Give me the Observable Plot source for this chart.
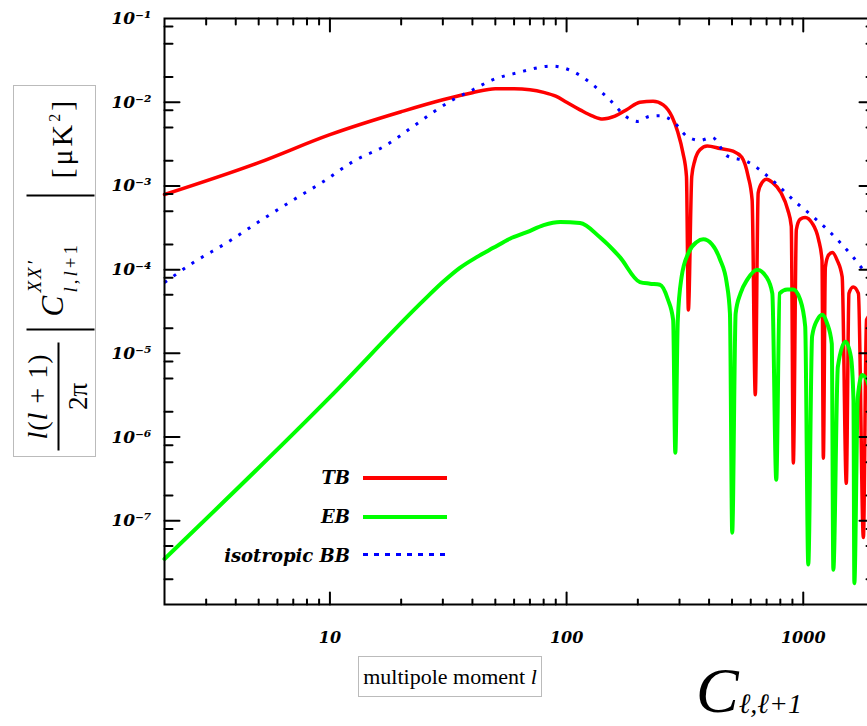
<!DOCTYPE html>
<html><head><meta charset="utf-8">
<script src="https://cdn.jsdelivr.net/npm/d3@7"></script>
<script src="https://cdn.jsdelivr.net/npm/@observablehq/plot@0.6"></script>
<style>
html,body{margin:0;padding:0;background:#fff;overflow:hidden}
#wrap{position:relative;width:867px;height:726px;overflow:hidden;background:#fff}
#chart,#axes{position:absolute;left:0;top:0;width:880px;height:726px}
#axes{pointer-events:none}
#ylab{position:absolute;left:13px;top:85px;width:83px;height:372px;border:1px solid #bbb;box-sizing:border-box}
#ylab .inner{position:absolute;left:-144.5px;top:144.5px;width:372px;height:83px;transform:rotate(-90deg);font-family:"Liberation Serif",serif;color:#000}
#ylab .inner > *{position:absolute;white-space:nowrap}
.num{left:6px;width:112px;top:4px;line-height:38px;font-size:28px;text-align:center;letter-spacing:1px}
.fbar{left:8px;width:108px;top:43px;height:2px;background:#000}
.den{left:6px;width:112px;top:46px;line-height:34px;font-size:27px;text-align:center}
.vbar{top:12px;width:2px;height:68px;background:#000}
.cc{left:142px;top:18px;font-size:31px;font-style:italic;line-height:40px}
.csup{left:166px;top:8px;font-size:19px;font-style:italic;line-height:24px;letter-spacing:2px}
.csub{left:166px;top:44px;font-size:19px;line-height:24px;letter-spacing:3px}
.unit{left:280px;top:20px;font-size:30px;line-height:40px;letter-spacing:3px}
.unit sup{font-size:16px;vertical-align:12px}
#xlab{position:absolute;left:358px;top:656px;width:184px;height:41px;border:1px solid #bbb;box-sizing:border-box;font-family:"Liberation Serif",serif;font-size:22px;line-height:39px;text-align:center;white-space:nowrap}
#cll{position:absolute;left:696px;top:659px;font-family:"Liberation Serif",serif;font-style:italic;font-size:64px;line-height:64px;white-space:nowrap}
#cll sub{font-size:28px;font-style:italic;vertical-align:-1px}
.lgt{position:absolute;font-family:"DejaVu Serif",serif;font-weight:bold;font-style:italic;font-size:18px;text-align:right;width:200px;left:150px;line-height:22px}
.lgs{position:absolute;left:363px;width:84px}
</style></head><body>
<div id="wrap">
  <div id="chart"></div>
  <div id="ylab"><div class="inner">
    <span class="num"><i>l</i>(<i>l</i> + 1)</span>
    <span class="fbar"></span>
    <span class="den">2π</span>
    <span class="vbar" style="left:128px"></span>
    <span class="cc">C</span>
    <span class="csup">XX′</span>
    <span class="csub"><i>l</i>,<i>l</i>+1</span>
    <span class="vbar" style="left:262px"></span>
    <span class="unit">[μK<sup>2</sup>]</span>
  </div></div>
  <div id="xlab">multipole moment <i>l</i></div>
  <div id="cll">C<sub>ℓ,ℓ+1</sub></div>
  <div class="lgt" style="top:467px">TB</div>
  <div class="lgs" style="top:476px;height:4px;background:#ff0000"></div>
  <div class="lgt" style="top:506px">EB</div>
  <div class="lgs" style="top:515px;height:4px;background:#00ff00"></div>
  <div class="lgt" style="top:545px">isotropic BB</div>
  <div class="lgs" style="top:553px;height:3px;background:repeating-linear-gradient(to right,#0000ff 0 5px,transparent 5px 11px)"></div>
  <div id="axes"></div>
</div>
<script>
// multipole moments and values
const tbL = [2,5,10,20,30,40,50,60,70,80,90,100,114,129,142,160,180,204,232,256,279,295,310,321,327,338,348,366,393,445,505,550,585,608,627,645,670,700,740,805,860,890,908,935,970,1019,1090,1160,1200,1216,1240,1280,1327,1390,1460,1520,1560,1625,1710,1795,1850,2000];
const tbV = [7.9e-4,1.9e-3,4.1e-3,7.7e-3,1.07e-2,1.3e-2,1.45e-2,1.45e-2,1.41e-2,1.31e-2,1.18e-2,1.0e-2,8.1e-3,6.8e-3,6.3e-3,6.8e-3,8.2e-3,1.0e-2,1.03e-2,9.3e-3,6.7e-3,4.4e-3,2.5e-3,1.3e-3,3.3e-5,1.3e-3,2.0e-3,2.7e-3,3.0e-3,2.8e-3,2.6e-3,2.2e-3,1.3e-3,6.8e-4,3.2e-6,8.3e-4,1.1e-3,1.2e-3,1.1e-3,8.3e-4,5.2e-4,3.3e-4,4.9e-7,3.0e-4,4.0e-4,4.2e-4,3.6e-4,2.3e-4,1.3e-4,5.6e-7,1.07e-4,1.5e-4,1.6e-4,1.3e-4,8.2e-5,2.8e-7,5.2e-5,6.2e-5,5.2e-5,6.3e-8,2.5e-5,3.2e-5];

const ebL = [2,10,24.7,30,35.4,41.7,49,57.6,68,80,94,114,138,168,204,225,248,268,282,288,295,306,327,355,378,412,445,475,490,501,518,543,580,638,700,740,769,795,855,908,970,1019,1050,1090,1145,1203,1260,1320,1340,1400,1507,1590,1630,1644,1700,1774,1900,2000];
const ebV = [3.5e-8,3.0e-6,4.2e-5,7.1e-5,1.05e-4,1.41e-4,1.82e-4,2.34e-4,2.8e-4,3.4e-4,3.7e-4,3.6e-4,2.45e-4,1.41e-4,7.1e-5,6.8e-5,6.6e-5,4.4e-5,2.5e-5,6.5e-7,2.5e-5,8.1e-5,1.58e-4,2.14e-4,2.3e-4,2.0e-4,1.32e-4,6.9e-5,3.0e-5,7.2e-8,3.0e-5,5.2e-5,7.6e-5,1.0e-4,8.1e-5,5.2e-5,3.1e-7,5.2e-5,5.8e-5,5.8e-5,4.4e-5,2.1e-5,3.0e-8,1.6e-5,2.5e-5,2.9e-5,2.3e-5,1.3e-5,2.6e-8,6.9e-6,1.38e-5,9.1e-6,2.75e-6,1.8e-8,3.0e-6,5.5e-6,4.0e-6,2.0e-6];

const bbL = [2,2.63,3.67,5.2,7.0,9.35,12.5,17.4,22.4,27.3,33.1,40.2,48.9,61.6,87,106,129,152,180,200,225,248,282,323,366,412,475,580,740,935,1100,1390,1625,1795,2000];
const bbV = [7.0e-5,1.2e-4,2.1e-4,4.0e-4,6.8e-4,1.12e-3,1.95e-3,3.1e-3,5.1e-3,7.6e-3,1.07e-2,1.41e-2,1.86e-2,2.24e-2,2.7e-2,2.34e-2,1.62e-2,1.07e-2,6.6e-3,5.9e-3,6.8e-3,6.9e-3,5.9e-3,3.9e-3,3.5e-3,3.8e-3,2.3e-3,1.95e-3,1.17e-3,6.3e-4,4.3e-4,2.3e-4,1.41e-4,1.0e-4,7.9e-5];

// axis ticks
const xMajor = [10,100,1000];
const xMinor = [3,4,5,6,7,8,9,20,30,40,50,60,70,80,90,200,300,400,500,600,700,800,900];
const yMajor = [1e-7,1e-6,1e-5,1e-4,1e-3,1e-2];
const yLabels = [1e-7,1e-6,1e-5,1e-4,1e-3,1e-2,1e-1];
const yMinor = [];
for (const e of [-8,-7,-6,-5,-4,-3,-2]) for (const m of [2,5,8]) yMinor.push(m * Math.pow(10, e));

const tb = tbL.map((l,i) => ({l, v: tbV[i]}));
const eb = ebL.map((l,i) => ({l, v: ebV[i]}));
const bb = bbL.map((l,i) => ({l, v: bbV[i]}));

const supMap = {"-":"⁻","0":"⁰","1":"¹","2":"²","3":"³","4":"⁴","5":"⁵","6":"⁶","7":"⁷","8":"⁸","9":"⁹"};
const fmtY = d => "10" + String(Math.round(Math.log10(d))).split("").map(c => supMap[c]).join("");

const W = 880, H = 726, mL = 164, mR = 6, mT = 18, mB = 122;
const base = {
  width: W, height: H,
  marginLeft: mL, marginRight: mR, marginTop: mT, marginBottom: mB,
  style: {background: "transparent", color: "#000", maxWidth: "none"},
  x: {type: "log", domain: [2, 2000], axis: null},
  y: {type: "log", domain: [1e-8, 1e-1], axis: null}
};
const lblFont = {fontFamily: "DejaVu Serif", fontWeight: "bold", fontStyle: "italic"};
const tickShape = {draw(ctx, l) { ctx.moveTo(0, 0); ctx.lineTo(0, -l); }};
const tk = (data, ch, side, len) => Plot.vector(data, {
  [ch]: d => d, frameAnchor: side, length: len, anchor: "start",
  rotate: {bottom: 0, top: 180, left: 90, right: -90}[side],
  shape: tickShape, stroke: "#000", strokeWidth: 2
});

// curves
const curves = Plot.plot({...base, marks: [
  Plot.line(tb, {x: "l", y: "v", stroke: "#ff0000", strokeWidth: 3.5, curve: "monotone-x"}),
  Plot.line(eb, {x: "l", y: "v", stroke: "#00ff00", strokeWidth: 4, curve: "monotone-x"}),
  Plot.line(bb, {x: "l", y: "v", stroke: "#0000ff", strokeWidth: 3, strokeDasharray: "3,8", strokeLinecap: "butt", curve: "monotone-x"})
]});
document.getElementById("chart").appendChild(curves);

// frame, ticks and tick labels
const axes = Plot.plot({...base, marks: [
  tk(xMajor, "x", "bottom", 12), tk(xMinor, "x", "bottom", 5),
  tk(xMajor, "x", "top", 13), tk(xMinor, "x", "top", 6),
  tk(yMajor, "y", "left", 15), tk(yMinor, "y", "left", 8),
  tk(yMajor, "y", "right", 15), tk(yMinor, "y", "right", 8),
  Plot.frame({stroke: "#000", strokeWidth: 2}),
  Plot.axisX(xMajor, {anchor: "bottom", tickSize: 0, tickPadding: 27, tickFormat: d => String(d), label: null, ...lblFont, fontSize: 16}),
  Plot.axisY(yLabels, {anchor: "left", tickSize: 0, tickPadding: 13, tickFormat: fmtY, label: null, ...lblFont, fontSize: 17})
]});
document.getElementById("axes").appendChild(axes);
</script>
</body></html>
